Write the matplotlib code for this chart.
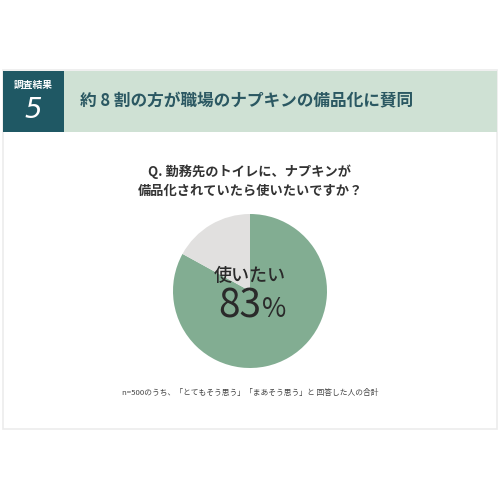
import matplotlib
matplotlib.use("Agg")
import matplotlib.pyplot as plt
from matplotlib.patches import Rectangle

plt.rcParams['font.family'] = ['Noto Sans CJK JP', 'DejaVu Sans']

# data
labels = ["使いたい", "その他"]
shares = [83, 17]
colors = ["#82ad92", "#e1e0df"]
badge_label = "調査結果"
badge_num = "5"
title = "約 8 割の方が職場のナプキンの備品化に賛同"
question = ["Q. 勤務先のトイレに、ナプキンが", "備品化されていたら使いたいですか？"]
note = "n=500のうち、「とてもそう思う」「まあそう思う」と 回答した人の合計"

fig = plt.figure(figsize=(5, 5), dpi=100)
fig.patch.set_facecolor("white")

# page layer in pixel coordinates
bg = fig.add_axes([0, 0, 1, 1])
bg.set_xlim(0, 500)
bg.set_ylim(500, 0)
bg.axis("off")

bg.add_patch(Rectangle((3, 70), 494, 359, facecolor="white", edgecolor="#ececec", lw=1.2))
bg.add_patch(Rectangle((3, 71), 61, 61, facecolor="#1f5864", edgecolor="none"))
bg.add_patch(Rectangle((64, 71), 433, 61, facecolor="#cfe1d4", edgecolor="none"))

bg.text(33.5, 85, badge_label, color="white", fontsize=7, fontweight="bold", ha="center", va="center")
bg.text(33.5, 110, badge_num, color="white", fontsize=20, style="italic", ha="center", va="center",
        family=["DejaVu Sans"])
bg.text(80, 101, title, color="#2b5862", fontsize=12, fontweight="bold", ha="left", va="center")

for i, line in enumerate(question):
    bg.text(250, 172 + i * 19, line, color="#333333", fontsize=9.5, fontweight="bold",
            ha="center", va="center")

bg.text(250, 393, note, color="#444444", fontsize=5.6, ha="center", va="center")

# pie
ax = fig.add_axes([0.5 - 0.154, 1 - 291 / 500 - 0.154, 0.308, 0.308])
ax.pie(shares, colors=colors, startangle=90, counterclock=False,
       wedgeprops=dict(edgecolor="none"))
ax.set_xlim(-1, 1)
ax.set_ylim(-1, 1)
ax.set_aspect("equal")

ax.text(0, 0.19, labels[0], color="#2a2a2a", fontsize=13, fontweight="medium", ha="center", va="center")
ax.text(0.14, -0.2, f"{shares[0]}", color="#2a2a2a", fontsize=28, ha="right", va="center")
ax.text(0.15, -0.24, "%", color="#2a2a2a", fontsize=19, ha="left", va="center")

fig.savefig("out.png", dpi=100, facecolor="white")
